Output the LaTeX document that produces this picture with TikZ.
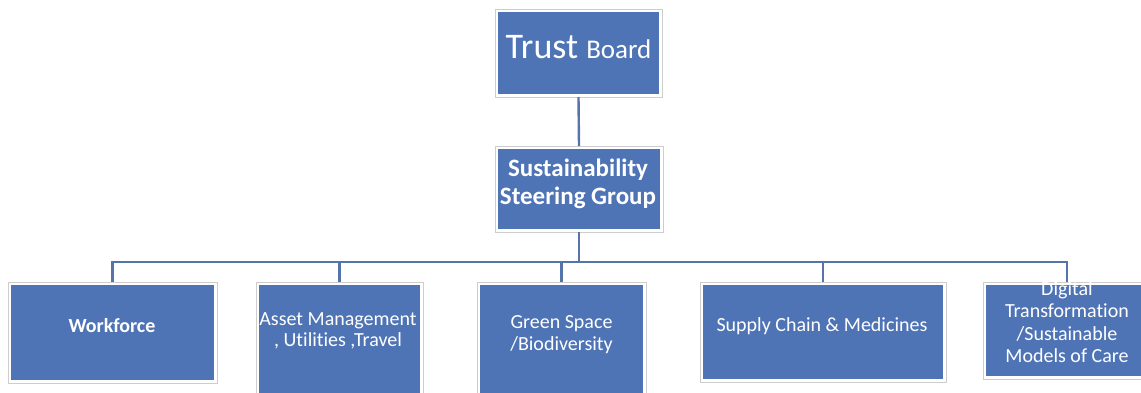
\documentclass[tikz,border=0pt]{standalone}
\usepackage{fontspec}
\setmainfont{Carlito}[Ligatures={NoCommon}]
\definecolor{boxblue}{RGB}{79,116,182}
\definecolor{linkblue}{RGB}{84,116,170}
\definecolor{rimgray}{RGB}{205,205,205}
\tikzset{
  orgbox/.style={draw=rimgray, fill=white, line width=0.8pt, inner sep=0pt, outer sep=0pt,
    path picture={\fill[boxblue] ([shift={(3pt,-3pt)}]path picture bounding box.north west) rectangle ([shift={(-3pt,3pt)}]path picture bounding box.south east);}},
  orgtext/.style={text=white, inner sep=0pt, align=center},
  link/.style={draw=linkblue, line width=2.4pt}
}
\newcommand{\orgbox}[5]{%
  \node[orgbox, minimum width=#4pt-#2pt, minimum height=#5pt-#3pt] (#1) at ({(#2+#4)/2}, {(#3+#5)/2}) {};}
\begin{document}
\begin{tikzpicture}[x=1pt, y=-1pt]
\useasboundingbox (0,0) rectangle (1141,392);
\begin{scope}
\clip (0,0) rectangle (1141,392);
% connectors
\coordinate (bus) at (579,262);
\orgbox{trust}{495}{9}{662}{97}
\orgbox{ssg}{495}{146}{663}{232}
\orgbox{work}{8}{282}{217}{383}
\orgbox{asset}{256}{282}{423}{398}
\orgbox{green}{477}{282}{646}{398}
\orgbox{supply}{700}{282}{946}{382}
\orgbox{digital}{983}{282}{1151}{379}
\draw[link] (trust.south) -- (ssg.north);
\draw[link] (ssg.south) -- (bus);
\draw[link] (bus) -| (work.north);
\draw[link] (bus) -| (asset.north);
\draw[link] (bus) -| (green.north);
\draw[link] (bus) -| (supply.north);
\draw[link] (bus) -| (digital.north);
% texts
\node[orgtext, anchor=base] (trustT) at (578.5,58.3) {\fontsize{36}{42}\selectfont Trust \fontsize{27}{30}\selectfont Board};
\node[orgtext, font=\fontsize{25}{28}\selectfont\bfseries] (ssgT) at (578,184) {Sustainability\\Steering Group};
\node[orgtext, anchor=base, font=\fontsize{20}{24}\selectfont\bfseries] (workT) at (112,332) {Workforce};
\node[orgtext, font=\fontsize{20}{21.5}\selectfont] (assetT) at (338,331) {Asset Management\\, Utilities ,Travel};
\node[orgtext, font=\fontsize{20}{22}\selectfont] (greenT) at (561.5,334.5) {Green Space\\/Biodiversity};
\node[orgtext, anchor=base, font=\fontsize{20}{24}\selectfont] (supplyT) at (822,331) {Supply Chain \& Medicines};
\node[orgtext, font=\fontsize{20}{22.3}\selectfont] (digitalT) at (1067,322) {Digital\\Transformation\\/Sustainable\\Models of Care};
\end{scope}
\end{tikzpicture}
\end{document}
